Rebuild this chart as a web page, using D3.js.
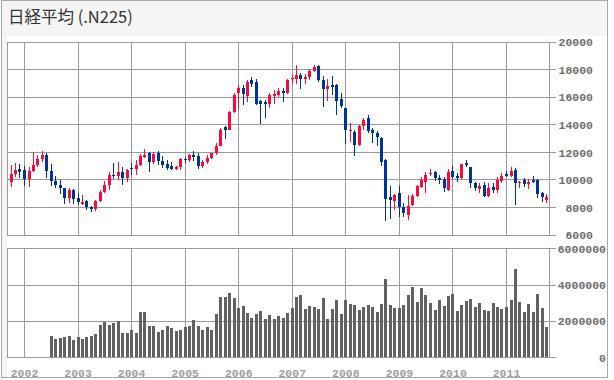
<!DOCTYPE html>
<html>
<head>
<meta charset="utf-8">
<script src="https://cdn.jsdelivr.net/npm/d3@7"></script>
<style>
  body { margin: 0; background: #fff; }
  svg { display: block; }
  .axis text { font-family: "Liberation Mono", monospace; font-weight: bold; font-size: 11.5px; }
</style>
</head>
<body>
<div id="chart"></div>
<script>
// Monthly candles, Oct 2001 - Oct 2011
const opens = [
  9780, 10366, 10780,
  10700, 10000, 10600, 11025, 11500, 11764, 10622, 9877, 9619, 9383, 8640, 9216,
  8680, 8280, 8470, 7980, 7830, 8425, 9083, 9600, 10344, 10219, 10560, 10101,
  10860, 10790, 11050, 11700, 11900, 11236, 11900, 11350, 11150, 10950, 10770, 10900,
  11490, 11400, 11740, 11670, 11000, 11277, 11584, 11900, 12414, 13785, 13610, 14900,
  16280, 16640, 16030, 17240, 17050, 15710, 15640, 15457, 16050, 16130, 16420, 16274,
  17300, 17300, 17580, 17290, 17400, 17880, 18250, 17236, 16569, 16850, 16850, 15840,
  15205, 13500, 13464, 12526, 13850, 14436, 13588, 13350, 13007, 11411, 8705, 8460,
  8995, 7980, 7422, 8147, 8800, 9475, 9837, 10374, 10563, 10083, 10011, 9235,
  10613, 10250, 10083, 11215, 10926, 9765, 9286, 9598, 8800, 9475, 9202, 9910,
  10396, 10250, 10687, 9765, 9960, 9670, 9960, 9960, 8995, 8540
];
const highs = [
  11060, 11200, 11150,
  10950, 10900, 12000, 11800, 12081, 11900, 11100, 10230, 9940, 9410, 9360, 9310,
  9000, 8900, 8540, 8060, 8540, 9200, 9865, 10520, 11161, 11238, 10910, 10750,
  11200, 11390, 11875, 12195, 12020, 12000, 12090, 11730, 11440, 11295, 11000, 11550,
  11635, 11860, 12045, 11950, 11420, 11800, 11950, 12670, 13740, 13885, 14950, 16250,
  16880, 16880, 17240, 17450, 17300, 15800, 15800, 16300, 16500, 16600, 16610, 17300,
  17600, 18300, 17700, 17670, 17990, 18300, 18290, 17500, 17300, 17490, 16900, 16250,
  15205, 14073, 13600, 13950, 14480, 14675, 13711, 13540, 13100, 11450, 9525, 8950,
  9500, 8270, 8872, 8980, 9600, 10200, 10563, 10737, 10635, 10323, 10200, 10740,
  10982, 10450, 11150, 11411, 10930, 9837, 9765, 9840, 9770, 9765, 10150, 10450,
  10600, 10926, 10855, 9910, 10080, 10000, 10250, 10000, 9112, 8945
];
const lows = [
  9480, 10200, 10130,
  9500, 9420, 10570, 10900, 11300, 10074, 9540, 9400, 8975, 8197, 8300, 8250,
  8150, 8180, 7790, 7604, 7720, 8400, 9000, 9215, 10040, 9990, 9614, 9850,
  10300, 10330, 10950, 11535, 10505, 11150, 11055, 10810, 10715, 10670, 10680, 10700,
  11200, 11300, 11320, 10785, 10840, 11130, 11500, 11800, 12400, 12965, 13600, 14850,
  15070, 15430, 15600, 16700, 15400, 14045, 14437, 15200, 15450, 16000, 15640, 16200,
  16900, 16900, 16530, 16900, 17250, 17800, 17100, 15262, 15700, 16100, 14670, 15150,
  12573, 12695, 11691, 12450, 13600, 13400, 12666, 12427, 11000, 6994, 7163, 7785,
  7300, 7250, 7054, 8100, 8700, 9358, 9050, 10250, 9910, 9670, 9076, 9165,
  10050, 9840, 10050, 10880, 9400, 9185, 8996, 8750, 8760, 9040, 9050, 9765,
  10155, 10200, 8147, 9400, 9430, 9300, 9720, 8650, 8360, 8314
];
const closes = [
  10366, 10697, 10543,
  9997, 10588, 11025, 11493, 11764, 10622, 9877, 9619, 9383, 8640, 9216, 8579,
  8340, 8363, 7973, 7831, 8425, 9083, 9563, 10344, 10219, 10560, 10101, 10677,
  10783, 11042, 11715, 11762, 11236, 11859, 11326, 11082, 10824, 10771, 10899, 11489,
  11388, 11740, 11669, 11009, 11277, 11584, 11900, 12414, 13574, 13607, 14872, 16111,
  16650, 16205, 17060, 16906, 15467, 15505, 15457, 16141, 16200, 16399, 16300, 17226,
  17383, 17604, 17288, 17400, 17876, 18138, 17249, 16569, 16786, 16738, 15681, 15308,
  13592, 13603, 12526, 13850, 14339, 13482, 13377, 13073, 11260, 8577, 8512, 8860,
  7994, 7568, 8110, 8828, 9523, 9958, 10357, 10493, 10133, 10035, 9346, 10546,
  10198, 10126, 11090, 11057, 9768, 9383, 9537, 8824, 9369, 9202, 9937, 10229,
  10238, 10624, 9755, 9850, 9694, 9816, 9833, 8955, 8700, 8750
];

// Monthly volume, Jul 2002 - Oct 2011
const volumes = [
  1160000, 1010000, 1070000, 1120000, 1160000, 940000,
  1100000, 1010000, 1100000, 1160000, 1270000, 1770000, 1930000, 1770000, 1880000, 2000000, 1320000, 1320000,
  1490000, 1320000, 2480000, 2480000, 1710000, 1710000, 1380000, 1490000, 1710000, 1600000, 1450000, 1490000,
  1660000, 1710000, 2040000, 1710000, 1490000, 1660000, 1490000, 2370000, 3310000, 3310000, 3530000, 3260000,
  2700000, 2810000, 2430000, 2150000, 2370000, 2540000, 2100000, 2320000, 2100000, 2260000, 2150000, 2430000,
  2700000, 3310000, 3420000, 2650000, 2810000, 2740000, 2650000, 3260000, 2100000, 2650000, 3150000, 2370000,
  3150000, 2920000, 2870000, 2590000, 2760000, 2870000, 2760000, 2480000, 2920000, 4300000, 2870000, 2700000,
  2700000, 2870000, 3420000, 3860000, 3040000, 3810000, 3420000, 2980000, 2590000, 3150000, 2810000, 3370000,
  3480000, 2540000, 2870000, 3090000, 3200000, 2760000, 2980000, 2590000, 2540000, 2980000, 2760000, 2650000,
  2760000, 3150000, 4860000, 3040000, 2480000, 2920000, 2480000, 3480000, 2700000, 1660000
];

const priceTicks = [6000, 8000, 10000, 12000, 14000, 16000, 18000, 20000];
const volumeTicks = [0, 2000000, 4000000, 6000000];
const yearTicks = [2002, 2003, 2004, 2005, 2006, 2007, 2008, 2009, 2010, 2011];

const width = 614;
const height = 380;
const panelLeft = 7.5;
const panelRight = 549.5;
const pricePanel = { top: 41.6, bottom: 234.6 };
const volumePanel = { top: 248.3, bottom: 357 };
const gridColor = "#9a9a9a";
const upColor = "#f80a3c";
const downColor = "#003399";

const candleMonths = d3.timeMonth.range(new Date(2001, 9, 1), new Date(2011, 10, 1));
const volumeMonths = d3.timeMonth.range(new Date(2002, 6, 1), new Date(2011, 10, 1));
const candles = candleMonths.map((date, i) => ({
  date, open: opens[i], high: highs[i], low: lows[i], close: closes[i]
}));
const volumeData = volumeMonths.map((date, i) => ({ date, volume: volumes[i] }));
const yearDates = yearTicks.map(y => new Date(y, 0, 1));

/*******************************/
/*    Append the containers    */
/*******************************/
const svg = d3.select("#chart")
  .append("svg")
    .attr("width", width)
    .attr("height", height)
    .attr("viewBox", `0 0 ${width} ${height}`);

svg.append("rect")
  .attr("x", 1.5).attr("y", 0.5)
  .attr("width", 606).attr("height", 377)
  .attr("fill", "#f5f5f5")
  .attr("stroke", "#a8a8a8");

svg.append("rect")
  .attr("x", 7).attr("y", 36)
  .attr("width", 600).attr("height", 341)
  .attr("fill", "#fff");

svg.append("text")
  .attr("x", 8)
  .attr("y", 23)
  .attr("font-family", "'Noto Sans CJK JP', sans-serif")
  .attr("font-size", 16.5)
  .attr("fill", "#333")
  .text("日経平均 (.N225)");

/****************************/
/*    Declare the scales    */
/****************************/
const xScale = d3.scaleTime()
  .domain([new Date(2002, 0, 1), new Date(2011, 0, 1)])
  .range([24, 506]);

const yPrice = d3.scaleLinear()
  .domain([6000, 20000])
  .range([pricePanel.bottom, pricePanel.top]);

const yVolume = d3.scaleLinear()
  .domain([0, 6000000])
  .range([volumePanel.bottom, volumePanel.top]);

/***************************/
/*     Grids and axes      */
/***************************/
const drawPanel = (panel, yScale, ticks, labelX, format) => {
  const g = svg.append("g").attr("shape-rendering", "crispEdges");

  // horizontal grid
  g.selectAll(".hgrid")
    .data(ticks)
    .join("line")
      .attr("x1", panelLeft)
      .attr("x2", panelRight)
      .attr("y1", d => Math.round(yScale(d)) + 0.5)
      .attr("y2", d => Math.round(yScale(d)) + 0.5)
      .attr("stroke", gridColor);

  // vertical grid
  g.selectAll(".vgrid")
    .data(yearDates)
    .join("line")
      .attr("x1", d => Math.round(xScale(d)) + 0.5)
      .attr("x2", d => Math.round(xScale(d)) + 0.5)
      .attr("y1", panel.top)
      .attr("y2", panel.bottom)
      .attr("stroke", gridColor);

  // border
  g.append("rect")
    .attr("x", panelLeft)
    .attr("y", Math.round(panel.top) + 0.5)
    .attr("width", panelRight - panelLeft)
    .attr("height", Math.round(panel.bottom) - Math.round(panel.top))
    .attr("fill", "none")
    .attr("stroke", gridColor);

  // right axis
  const rightAxis = d3.axisRight(yScale)
    .tickValues(ticks)
    .tickSize(6)
    .tickFormat(format);
  const axis = svg.append("g")
    .attr("class", "axis")
    .attr("transform", `translate(${panelRight}, 0)`)
    .call(rightAxis);
  axis.select(".domain").remove();
  axis.selectAll(".tick line")
    .attr("stroke", gridColor)
    .attr("shape-rendering", "crispEdges");
  axis.selectAll(".tick text")
    .attr("x", labelX - panelRight)
    .attr("dy", "0.36em")
    .attr("text-anchor", "end")
    .attr("fill", "#6e6e6e");
};

drawPanel(pricePanel, yPrice, priceTicks, 593, d3.format("d"));
drawPanel(volumePanel, yVolume, volumeTicks, 606, d3.format("d"));

// Bottom axis: years
const bottomAxis = d3.axisBottom(xScale)
  .tickValues(yearDates)
  .tickSize(0)
  .tickFormat(d3.timeFormat("%Y"));
const xAxis = svg.append("g")
  .attr("class", "axis")
  .attr("transform", `translate(0, ${volumePanel.bottom})`)
  .call(bottomAxis);
xAxis.select(".domain").remove();
xAxis.selectAll(".tick text")
  .attr("y", 19.5)
  .attr("dy", 0)
  .attr("fill", "#a0a0a0");

/************************************/
/*        Draw the candles          */
/************************************/
const candleGroup = svg.append("g").attr("shape-rendering", "crispEdges");
candleGroup.selectAll(".wick")
  .data(candles)
  .join("line")
    .attr("x1", d => Math.round(xScale(d.date)) + 0.5)
    .attr("x2", d => Math.round(xScale(d.date)) + 0.5)
    .attr("y1", d => yPrice(d.high))
    .attr("y2", d => yPrice(d.low))
    .attr("stroke", d => d.close >= d.open ? upColor : downColor)
    .attr("stroke-width", 1);

candleGroup.selectAll(".body")
  .data(candles)
  .join("rect")
    .attr("x", d => Math.round(xScale(d.date)) - 1)
    .attr("y", d => yPrice(Math.max(d.open, d.close)))
    .attr("width", 3)
    .attr("height", d => Math.max(1.5, Math.abs(yPrice(d.open) - yPrice(d.close))))
    .attr("fill", d => d.close >= d.open ? upColor : downColor);

/************************************/
/*        Draw the volume bars      */
/************************************/
svg.append("g")
  .attr("shape-rendering", "crispEdges")
  .selectAll("rect")
  .data(volumeData)
  .join("rect")
    .attr("x", d => Math.round(xScale(d.date)) - 1)
    .attr("y", d => yVolume(d.volume))
    .attr("width", 3)
    .attr("height", d => volumePanel.bottom - yVolume(d.volume))
    .attr("fill", "#616161");
</script>
</body>
</html>
